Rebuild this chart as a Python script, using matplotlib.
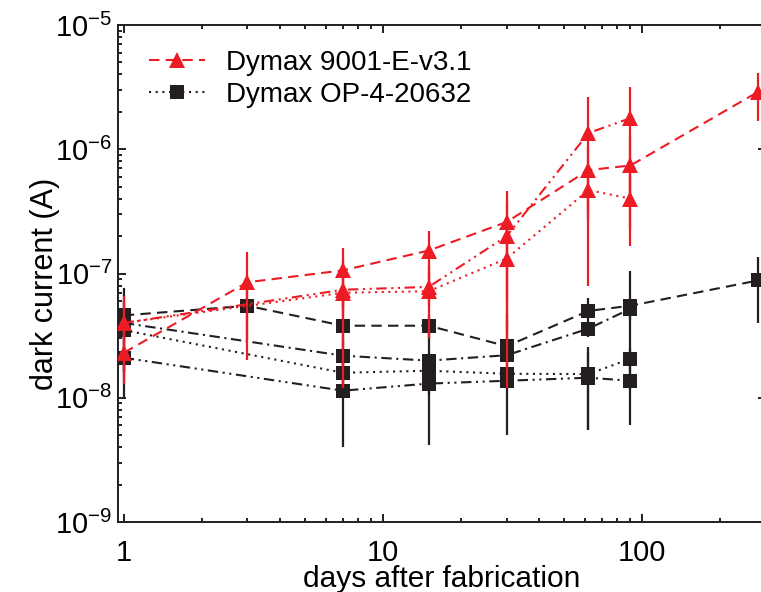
import matplotlib
matplotlib.use("Agg")
import matplotlib.pyplot as plt
from matplotlib.ticker import LogLocator, NullFormatter, FixedLocator, FixedFormatter

plt.rcParams['font.family'] = ['Liberation Sans', 'DejaVu Sans']
plt.rcParams['mathtext.fontset'] = 'custom'
plt.rcParams['mathtext.rm'] = 'Liberation Sans'
plt.rcParams['mathtext.it'] = 'Liberation Sans:italic'
plt.rcParams['mathtext.bf'] = 'Liberation Sans:bold'

# ---- data: dark current vs. days after fabrication (mean and 1-sigma) ----
# Dymax 9001-E-v3.1 devices
red_a_days = [1, 3, 7, 15, 30, 62, 90, 280]
red_a_cur = [2.3e-8, 8.5e-8, 1.06e-7, 1.53e-7, 2.6e-7, 6.8e-7, 7.4e-7, 2.9e-6]
red_a_err = [1.0e-8, 6.5e-8, 5.3e-8, 6.5e-8, 2.0e-7, 3.6e-7, 5.1e-7, 1.2e-6]

red_b_days = [1, 7, 15, 30, 62, 90]
red_b_cur = [4.0e-8, 7.0e-8, 7.2e-8, 1.32e-7, 4.7e-7, 4.0e-7]
red_b_err = [2.6e-8, 5.8e-8, 4.2e-8, 1.2e-7, 2.0e-7, 2.35e-7]

red_c_days = [1, 7, 15, 30, 62, 90]
red_c_cur = [4.0e-8, 7.4e-8, 7.8e-8, 2.0e-7, 1.35e-6, 1.78e-6]
red_c_err = [1.2e-8, 2.4e-8, 2.3e-8, 1.67e-7, 1.27e-6, 1.38e-6]

# Dymax OP-4-20632 devices
blk_a_days = [1, 3, 7, 15, 30, 62, 90, 280]
blk_a_cur = [4.6e-8, 5.5e-8, 3.8e-8, 3.8e-8, 2.6e-8, 5.0e-8, 5.5e-8, 8.8e-8]
blk_a_err = [3.0e-8, 2.56e-8, 3.4e-8, 8.0e-9, 2.1e-8, 1.4e-8, 4.9e-8, 4.8e-8]

blk_b_days = [1, 7, 15, 30, 62, 90]
blk_b_cur = [4.0e-8, 2.18e-8, 1.99e-8, 2.2e-8, 3.6e-8, 5.2e-8]
blk_b_err = [8.0e-9, 8.7e-9, 1.57e-8, 2.0e-9, 5.0e-9, 1.0e-8]

blk_c_days = [1, 7, 15, 30, 62, 90]
blk_c_cur = [3.5e-8, 1.59e-8, 1.65e-8, 1.56e-8, 1.55e-8, 2.06e-8]
blk_c_err = [2.5e-8, 6.0e-9, 3.0e-9, 2.0e-9, 1.0e-8, 4.7e-9]

blk_d_days = [1, 7, 15, 30, 62, 90]
blk_d_cur = [2.1e-8, 1.14e-8, 1.3e-8, 1.37e-8, 1.45e-8, 1.37e-8]
blk_d_err = [5.0e-9, 1.6e-9, 2.5e-9, 2.0e-9, 9.0e-9, 2.0e-9]

x_ticks = [1, 10, 100]
x_tick_labels = ['1', '10', '100']
y_ticks = [1e-9, 1e-8, 1e-7, 1e-6, 1e-5]

RED = '#ED1C24'
BLACK = '#231F20'

DASHED = (0, (5, 3))
DOTTED = (0, (1, 2.2))
DASHDOT = (0, (5, 2.2, 1, 2.2))
DASHDOTDOT = (0, (5, 2.2, 1, 2.2, 1, 2.2))

TRI_MS = 12
SQ_MS = 9.5

fig = plt.figure(figsize=(7.61, 5.92), dpi=100)
# the right spine sits just past the figure edge; only its major ticks poke in
ax = fig.add_axes([118 / 761, 70 / 592, (766 - 118) / 761, 497 / 592])


def draw(days, cur, err, color, marker, ms, ls, z=2):
    ax.errorbar(days, cur, yerr=err, color=color, ecolor=color, marker=marker,
                markersize=ms, markeredgewidth=0, linestyle=ls, linewidth=1.5,
                elinewidth=1.6, capsize=4.5, capthick=1.6, zorder=z)


draw(blk_d_days, blk_d_cur, blk_d_err, BLACK, 's', SQ_MS, DASHDOTDOT)
draw(blk_b_days, blk_b_cur, blk_b_err, BLACK, 's', SQ_MS, DASHDOT)
draw(blk_a_days, blk_a_cur, blk_a_err, BLACK, 's', SQ_MS, DASHED)
draw(blk_c_days, blk_c_cur, blk_c_err, BLACK, 's', SQ_MS, DOTTED)

draw(red_b_days, red_b_cur, red_b_err, RED, '^', TRI_MS, DOTTED, z=3)
draw(red_c_days, red_c_cur, red_c_err, RED, '^', TRI_MS, DASHDOTDOT, z=3)
draw(red_a_days, red_a_cur, red_a_err, RED, '^', TRI_MS, DASHED, z=3)

ax.set_xscale('log')
ax.set_yscale('log')
ax.set_xlim(0.95, 300)
ax.set_ylim(1e-9, 1e-5)

ax.xaxis.set_major_locator(FixedLocator(x_ticks))
ax.xaxis.set_major_formatter(FixedFormatter(x_tick_labels))
ax.xaxis.set_minor_locator(LogLocator(base=10, subs=range(2, 10)))
ax.xaxis.set_minor_formatter(NullFormatter())
ax.yaxis.set_major_locator(FixedLocator(y_ticks))
ax.yaxis.set_minor_locator(LogLocator(base=10, subs=range(2, 10), numticks=20))
ax.yaxis.set_minor_formatter(NullFormatter())

ax.tick_params(which='both', direction='in', top=True, right=True, width=1.4, color=BLACK)
ax.tick_params(which='major', length=6)
ax.tick_params(which='minor', length=3.0)
ax.tick_params(axis='x', which='major', labelsize=21, pad=12)
ax.tick_params(axis='y', which='major', labelsize=21, pad=4)
for s in ax.spines.values():
    s.set_linewidth(1.4)
    s.set_color(BLACK)

ax.set_xlabel('days after fabrication', fontsize=21.5, va='baseline')
ax.set_ylabel('dark current (A)', fontsize=22)
ax.xaxis.set_label_coords(0.5, -(587 - 522) / 497)
ax.yaxis.set_label_coords(-0.09, 0.48)

h_red = plt.Line2D([], [], color=RED, marker='^', markersize=TRI_MS, markeredgewidth=0,
                   linestyle=DASHED, linewidth=1.5)
h_blk = plt.Line2D([], [], color=BLACK, marker='s', markersize=SQ_MS, markeredgewidth=0,
                   linestyle=DOTTED, linewidth=1.5)
ax.legend([h_red, h_blk], ['Dymax 9001-E-v3.1', 'Dymax OP-4-20632'],
          loc='upper left', bbox_to_anchor=(0.01, 1.0), frameon=False,
          fontsize=20, handlelength=2.0, handletextpad=0.75, labelspacing=0.2,
          numpoints=1)

fig.savefig('out.png', dpi=100)
